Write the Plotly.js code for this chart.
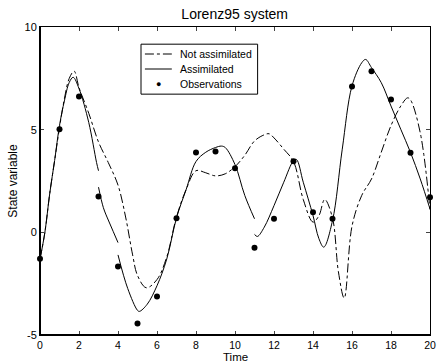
<!DOCTYPE html>
<html>
<head>
<meta charset="utf-8">
<script src="https://cdn.plot.ly/plotly-3.0.1.min.js"></script>
<style>html,body{margin:0;padding:0;background:#fff;}#chart{width:437px;height:363px;}</style>
</head>
<body>
<div id="chart"></div>
<script>
// Not assimilated (free model run)
const naTime = [0,0.25,0.5,0.75,1,1.25,1.5,1.75,2,2.5,3,3.5,4,4.4,4.75,5,5.45,6,6.5,7,7.5,8,8.5,9,9.5,10,10.5,11,11.5,11.75,12,12.5,13,13.5,14,14.3,14.6,15,15.3,15.6,16,16.5,17,17.5,18,18.5,18.85,19,19.5,20];
const naValue = [-1.3,0.0,1.9,3.5,5.1,6.5,7.5,7.85,7.05,5.8,4.4,3.4,2.3,0.7,-1.1,-2.1,-2.7,-2.3,-1.2,0.75,2.1,3.0,2.9,2.75,2.85,3.2,3.75,4.45,4.75,4.8,4.6,4.05,3.45,1.6,0.5,0.8,1.6,0.7,-1.9,-3.2,0.3,1.8,2.6,3.9,5.2,6.15,6.55,6.45,4.85,1.1];
// Assimilated run (segments separated by null)
const asTime = [0,0.25,0.5,0.75,1,1.25,1.5,1.7,2,2.5,2.9,3.0,null,
  3,3.25,3.5,3.75,4,null,
  4,4.5,5,5.1,5.5,6,6.5,7,7.5,8,8.5,9,9.3,9.5,10,10.5,11,null,
  11,11.15,11.5,12,12.5,13,13.15,13.5,14,14.3,14.55,15,15.5,16,16.5,16.7,17,17.5,18,18.5,19,19.5,20];
const asValue = [-1.3,0.0,1.9,3.5,5.2,6.4,7.3,7.55,7.0,5.35,3.4,3.0,null,
  2.2,1.2,0.6,0.05,-0.5,null,
  -1.1,-2.74,-3.8,-3.85,-3.5,-2.6,-1.3,0.7,2.1,3.45,3.9,4.13,4.2,4.13,3.3,1.8,0.66,null,
  -0.1,-0.2,0.25,1.3,2.44,3.49,3.55,2.44,0.82,-0.3,-0.72,0.57,4.05,7.13,8.26,8.42,8.02,7.29,6.15,5.02,3.89,2.6,1.14];
// Observations
const obsTime = [0,1,2,3,4,5,6,7,8,9,10,11,12,13,14,15,16,17,18,19,20];
const obsValue = [-1.29,5.02,6.61,1.74,-1.67,-4.44,-3.13,0.69,3.89,3.94,3.12,-0.75,0.66,3.46,0.98,0.66,7.10,7.84,6.47,3.87,1.71];
const xTicks = [0,2,4,6,8,10,12,14,16,18,20];
const yTicks = [-5,0,5,10];
const seriesNames = ['Not assimilated', 'Assimilated', 'Observations'];

const fam = 'Liberation Sans, Arial, Helvetica, sans-serif';
const f = (s) => ({family: fam, size: s, color: '#000'});

const traces = [
  {x: naTime, y: naValue, type: 'scatter', mode: 'lines', name: seriesNames[0],
   line: {color: '#000', width: 1, dash: 'dashdot', shape: 'spline'}},
  {x: asTime, y: asValue, type: 'scatter', mode: 'lines', name: seriesNames[1],
   line: {color: '#000', width: 1, shape: 'spline'}, connectgaps: false},
  {x: obsTime, y: obsValue, type: 'scatter', mode: 'markers', name: seriesNames[2],
   marker: {color: '#000', size: 6}, cliponaxis: false}
];

// plot area: top 27px, bottom 335px (height 308)
const lg = {x0: 0.259, x1: 0.558, y0: 0.782, y1: 0.9442, lx0: 0.269, lx1: 0.338, tx: 0.353, rows: [0.9123, 0.8636, 0.8149]};
const shapes = [
  {type: 'rect', xref: 'paper', yref: 'paper', x0: lg.x0, x1: lg.x1, y0: lg.y0, y1: lg.y1,
   line: {color: '#000', width: 1}, fillcolor: '#fff', layer: 'above'},
  {type: 'line', xref: 'paper', yref: 'paper', x0: lg.lx0, x1: lg.lx1, y0: lg.rows[0], y1: lg.rows[0],
   line: {color: '#000', width: 1, dash: 'dashdot'}, layer: 'above'},
  {type: 'line', xref: 'paper', yref: 'paper', x0: lg.lx0, x1: lg.lx1, y0: lg.rows[1], y1: lg.rows[1],
   line: {color: '#000', width: 1}, layer: 'above'},
  // heavier bottom and left axis lines
  {type: 'line', xref: 'paper', yref: 'paper', x0: 0, x1: 1, y0: 0, y1: 0, line: {color: '#000', width: 2}, layer: 'above'},
  {type: 'line', xref: 'paper', yref: 'paper', x0: 0, x1: 0, y0: 0, y1: 1, line: {color: '#000', width: 2}, layer: 'above'}
];
const annotations = seriesNames.map((n, i) => ({
  text: n, xref: 'paper', yref: 'paper', x: lg.tx, y: lg.rows[i], xanchor: 'left', yanchor: 'middle',
  showarrow: false, font: f(10.5)
}));
annotations.push({text: '●', xref: 'paper', yref: 'paper', x: (lg.lx0 + lg.lx1) / 2, y: lg.rows[2],
  xanchor: 'center', yanchor: 'middle', showarrow: false, font: f(9)});
annotations.push({text: 'Time', xref: 'paper', yref: 'paper', x: 0.5, y: -0.073, xanchor: 'center', yanchor: 'middle',
  showarrow: false, font: f(11.5)});

const layout = {
  width: 437, height: 363,
  margin: {l: 40, r: 7, t: 27, b: 28},
  paper_bgcolor: '#fff', plot_bgcolor: '#fff',
  font: f(11),
  showlegend: false,
  title: {text: 'Lorenz95 system', font: f(14), x: 0.537, xanchor: 'center', y: 0.962, yanchor: 'middle'},
  xaxis: {range: [0, 20], tickvals: xTicks, ticktext: xTicks.map(String), ticks: 'inside', ticklen: 4,
    showline: true, linecolor: '#000', linewidth: 1, mirror: 'ticks', showgrid: false, zeroline: false, tickfont: f(10.5)},
  yaxis: {range: [-5, 10], tickvals: yTicks, ticktext: yTicks.map(String), ticks: 'inside', ticklen: 4,
    showline: true, linecolor: '#000', linewidth: 1, mirror: 'ticks', showgrid: false, zeroline: false, tickfont: f(11),
    title: {text: 'State variable', font: f(12), standoff: 4}},
  shapes: shapes,
  annotations: annotations
};
Plotly.newPlot('chart', traces, layout, {displayModeBar: false, staticPlot: true});
</script>
</body>
</html>
